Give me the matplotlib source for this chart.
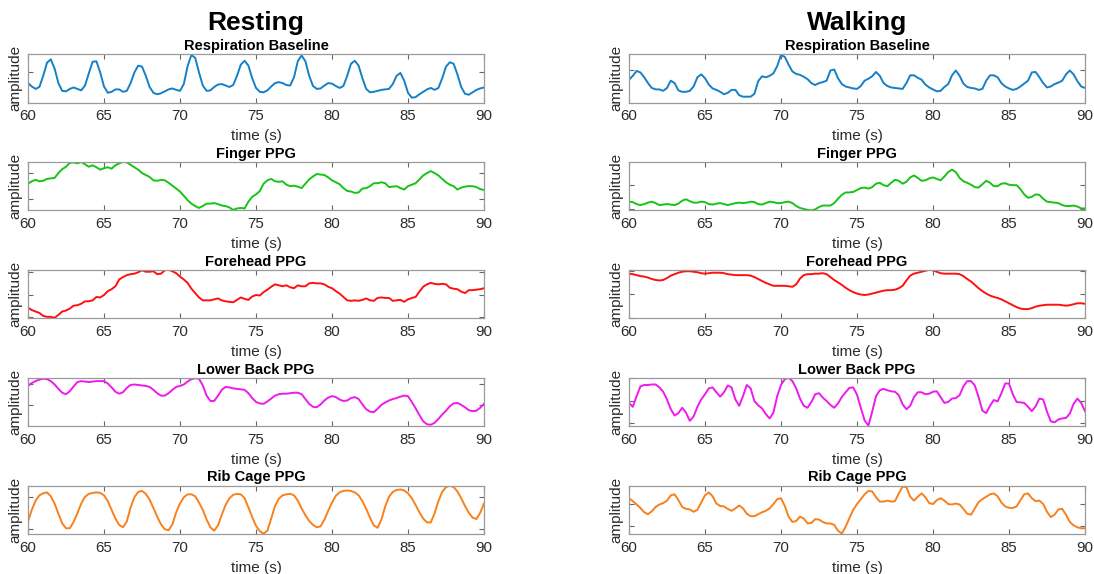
import numpy as np
import matplotlib.pyplot as plt

plt.rcParams['font.family'] = ['Liberation Sans', 'DejaVu Sans']

# 0.25 s sampling, 60-90 s window, amplitudes normalised to the panel range
t = np.arange(60, 90.001, 0.25)

resp_rest = [
    0.40, 0.33, 0.28, 0.32, 0.55, 0.82, 0.89, 0.70, 0.40, 0.24, 0.23, 0.28,
    0.31, 0.28, 0.25, 0.35, 0.60, 0.84, 0.85, 0.62, 0.33, 0.20, 0.22, 0.27,
    0.27, 0.22, 0.24, 0.40, 0.62, 0.76, 0.74, 0.55, 0.32, 0.20, 0.17, 0.19,
    0.23, 0.27, 0.29, 0.26, 0.24, 0.38, 0.75, 0.98, 0.92, 0.62, 0.35, 0.24,
    0.25, 0.32, 0.37, 0.38, 0.35, 0.32, 0.36, 0.55, 0.78, 0.86, 0.76, 0.50,
    0.30, 0.22, 0.21, 0.25, 0.33, 0.40, 0.42, 0.40, 0.36, 0.35, 0.52, 0.85,
    0.97, 0.85, 0.55, 0.34, 0.28, 0.29, 0.35, 0.40, 0.39, 0.34, 0.30, 0.34,
    0.55, 0.80, 0.86, 0.76, 0.50, 0.28, 0.21, 0.22, 0.24, 0.26, 0.27, 0.28,
    0.38, 0.55, 0.61, 0.45, 0.20, 0.10, 0.11, 0.17, 0.22, 0.27, 0.30, 0.26,
    0.30, 0.50, 0.74, 0.83, 0.80, 0.58, 0.32, 0.18, 0.16, 0.21, 0.26, 0.29,
    0.31]

finger_rest = [
    0.55, 0.60, 0.63, 0.60, 0.61, 0.65, 0.66, 0.67, 0.77, 0.85, 0.90, 0.98,
    0.99, 0.97, 1.00, 0.95, 0.90, 0.93, 0.89, 0.84, 0.87, 0.89, 0.86, 0.93,
    0.97, 1.00, 0.99, 0.94, 0.89, 0.84, 0.77, 0.73, 0.69, 0.62, 0.61, 0.63,
    0.62, 0.57, 0.51, 0.45, 0.39, 0.30, 0.21, 0.14, 0.09, 0.05, 0.09, 0.14,
    0.14, 0.15, 0.13, 0.10, 0.09, 0.06, 0.01, 0.04, 0.05, 0.04, 0.18, 0.28,
    0.33, 0.40, 0.55, 0.62, 0.65, 0.60, 0.59, 0.60, 0.53, 0.50, 0.51, 0.49,
    0.46, 0.55, 0.64, 0.70, 0.75, 0.74, 0.73, 0.68, 0.62, 0.58, 0.54, 0.46,
    0.40, 0.39, 0.36, 0.37, 0.45, 0.46, 0.50, 0.56, 0.56, 0.58, 0.56, 0.48,
    0.49, 0.50, 0.46, 0.43, 0.50, 0.53, 0.56, 0.64, 0.72, 0.77, 0.81, 0.77,
    0.72, 0.65, 0.58, 0.53, 0.50, 0.43, 0.47, 0.49, 0.50, 0.50, 0.48, 0.44,
    0.42]

forehead_rest = [
    0.22, 0.17, 0.14, 0.11, 0.05, 0.03, 0.03, 0.01, 0.07, 0.14, 0.16, 0.20,
    0.26, 0.27, 0.30, 0.35, 0.35, 0.37, 0.44, 0.43, 0.48, 0.56, 0.60, 0.66,
    0.80, 0.85, 0.89, 0.91, 0.92, 0.95, 0.99, 0.96, 0.96, 0.97, 0.91, 0.92,
    0.99, 1.00, 0.97, 0.93, 0.86, 0.80, 0.73, 0.61, 0.52, 0.43, 0.37, 0.37,
    0.37, 0.39, 0.41, 0.37, 0.35, 0.34, 0.33, 0.38, 0.43, 0.40, 0.38, 0.45,
    0.48, 0.47, 0.54, 0.59, 0.65, 0.70, 0.68, 0.66, 0.68, 0.64, 0.62, 0.68,
    0.66, 0.66, 0.72, 0.73, 0.72, 0.72, 0.70, 0.65, 0.62, 0.56, 0.51, 0.44,
    0.37, 0.36, 0.37, 0.36, 0.38, 0.41, 0.37, 0.36, 0.42, 0.43, 0.42, 0.42,
    0.36, 0.37, 0.38, 0.34, 0.39, 0.42, 0.44, 0.55, 0.65, 0.70, 0.73, 0.71,
    0.70, 0.71, 0.70, 0.63, 0.61, 0.60, 0.55, 0.52, 0.58, 0.58, 0.59, 0.60,
    0.62]

back_rest = [
    0.83, 0.89, 0.93, 0.96, 0.98, 0.97, 0.93, 0.86, 0.77, 0.69, 0.66, 0.72,
    0.82, 0.91, 0.93, 0.92, 0.91, 0.92, 0.93, 0.93, 0.93, 0.88, 0.80, 0.71,
    0.67, 0.70, 0.79, 0.85, 0.86, 0.85, 0.84, 0.83, 0.81, 0.75, 0.68, 0.63,
    0.63, 0.68, 0.75, 0.81, 0.83, 0.86, 0.92, 0.97, 0.99, 0.98, 0.84, 0.63,
    0.52, 0.52, 0.63, 0.75, 0.81, 0.80, 0.78, 0.77, 0.76, 0.75, 0.68, 0.58,
    0.50, 0.47, 0.46, 0.51, 0.57, 0.63, 0.66, 0.67, 0.67, 0.68, 0.69, 0.69,
    0.66, 0.56, 0.46, 0.40, 0.39, 0.45, 0.53, 0.59, 0.62, 0.60, 0.55, 0.52,
    0.53, 0.58, 0.60, 0.56, 0.45, 0.35, 0.30, 0.29, 0.36, 0.44, 0.49, 0.53,
    0.56, 0.58, 0.61, 0.63, 0.62, 0.50, 0.37, 0.23, 0.10, 0.04, 0.03, 0.07,
    0.15, 0.24, 0.32, 0.41, 0.47, 0.48, 0.44, 0.39, 0.33, 0.31, 0.32, 0.38,
    0.46]

rib_rest = [
    0.26, 0.50, 0.69, 0.80, 0.84, 0.86, 0.78, 0.63, 0.42, 0.22, 0.12, 0.12,
    0.25, 0.43, 0.63, 0.77, 0.83, 0.85, 0.86, 0.85, 0.80, 0.68, 0.50, 0.32,
    0.19, 0.14, 0.26, 0.55, 0.76, 0.87, 0.89, 0.83, 0.71, 0.54, 0.36, 0.20,
    0.10, 0.08, 0.20, 0.45, 0.63, 0.76, 0.82, 0.82, 0.78, 0.65, 0.50, 0.30,
    0.14, 0.07, 0.18, 0.40, 0.60, 0.74, 0.81, 0.83, 0.82, 0.74, 0.55, 0.35,
    0.17, 0.06, 0.01, 0.07, 0.32, 0.58, 0.73, 0.80, 0.82, 0.83, 0.80, 0.69,
    0.53, 0.39, 0.27, 0.19, 0.14, 0.16, 0.30, 0.48, 0.65, 0.79, 0.86, 0.89,
    0.90, 0.89, 0.86, 0.80, 0.68, 0.52, 0.34, 0.18, 0.13, 0.30, 0.57, 0.77,
    0.87, 0.91, 0.92, 0.90, 0.84, 0.74, 0.60, 0.45, 0.32, 0.24, 0.24, 0.43,
    0.68, 0.87, 0.97, 1.00, 0.97, 0.88, 0.74, 0.58, 0.44, 0.34, 0.31, 0.44,
    0.63]

resp_walk = [
    0.47, 0.55, 0.65, 0.62, 0.52, 0.40, 0.30, 0.27, 0.27, 0.24, 0.30, 0.45,
    0.40, 0.25, 0.22, 0.22, 0.24, 0.33, 0.52, 0.58, 0.50, 0.37, 0.29, 0.26,
    0.22, 0.17, 0.20, 0.26, 0.26, 0.15, 0.12, 0.12, 0.12, 0.18, 0.44, 0.54,
    0.52, 0.55, 0.60, 0.75, 0.98, 0.94, 0.78, 0.64, 0.59, 0.57, 0.53, 0.48,
    0.40, 0.36, 0.40, 0.42, 0.45, 0.66, 0.68, 0.50, 0.38, 0.33, 0.31, 0.29,
    0.28, 0.34, 0.45, 0.49, 0.54, 0.63, 0.55, 0.40, 0.34, 0.31, 0.30, 0.29,
    0.28, 0.40, 0.56, 0.56, 0.51, 0.47, 0.37, 0.31, 0.27, 0.23, 0.24, 0.32,
    0.38, 0.56, 0.66, 0.55, 0.39, 0.32, 0.30, 0.29, 0.26, 0.28, 0.45, 0.56,
    0.56, 0.52, 0.40, 0.33, 0.29, 0.26, 0.28, 0.33, 0.39, 0.45, 0.62, 0.63,
    0.52, 0.40, 0.31, 0.33, 0.38, 0.41, 0.45, 0.58, 0.66, 0.58, 0.44, 0.33,
    0.30]

finger_walk = [
    0.18, 0.17, 0.13, 0.11, 0.13, 0.16, 0.18, 0.15, 0.11, 0.12, 0.13, 0.12,
    0.11, 0.14, 0.20, 0.23, 0.19, 0.16, 0.16, 0.18, 0.17, 0.13, 0.12, 0.14,
    0.15, 0.13, 0.11, 0.13, 0.15, 0.16, 0.15, 0.16, 0.18, 0.17, 0.13, 0.12,
    0.15, 0.18, 0.17, 0.15, 0.15, 0.17, 0.18, 0.15, 0.09, 0.05, 0.03, 0.01,
    0.00, 0.02, 0.07, 0.10, 0.10, 0.10, 0.15, 0.24, 0.32, 0.37, 0.37, 0.38,
    0.42, 0.46, 0.47, 0.45, 0.48, 0.55, 0.57, 0.52, 0.50, 0.57, 0.63, 0.61,
    0.55, 0.59, 0.68, 0.72, 0.67, 0.61, 0.62, 0.66, 0.68, 0.65, 0.62, 0.70,
    0.79, 0.84, 0.79, 0.67, 0.60, 0.57, 0.53, 0.48, 0.47, 0.54, 0.61, 0.57,
    0.50, 0.50, 0.55, 0.56, 0.53, 0.52, 0.52, 0.44, 0.33, 0.26, 0.28, 0.33,
    0.32, 0.24, 0.18, 0.17, 0.16, 0.15, 0.11, 0.09, 0.09, 0.10, 0.08, 0.04,
    0.04]

forehead_walk = [
    0.92, 0.91, 0.89, 0.87, 0.86, 0.84, 0.81, 0.79, 0.78, 0.79, 0.83, 0.88,
    0.91, 0.94, 0.96, 0.97, 0.97, 0.96, 0.95, 0.93, 0.92, 0.93, 0.94, 0.94,
    0.94, 0.93, 0.91, 0.90, 0.89, 0.89, 0.89, 0.89, 0.88, 0.85, 0.81, 0.77,
    0.73, 0.70, 0.67, 0.67, 0.67, 0.67, 0.66, 0.65, 0.70, 0.82, 0.89, 0.91,
    0.91, 0.92, 0.92, 0.93, 0.91, 0.85, 0.79, 0.74, 0.69, 0.63, 0.58, 0.54,
    0.51, 0.49, 0.48, 0.49, 0.51, 0.53, 0.55, 0.57, 0.58, 0.58, 0.59, 0.62,
    0.67, 0.78, 0.88, 0.92, 0.94, 0.96, 0.98, 1.00, 0.99, 0.96, 0.93, 0.92,
    0.92, 0.92, 0.92, 0.91, 0.87, 0.81, 0.76, 0.69, 0.62, 0.56, 0.51, 0.47,
    0.44, 0.42, 0.39, 0.35, 0.31, 0.27, 0.23, 0.20, 0.19, 0.19, 0.21, 0.24,
    0.26, 0.27, 0.28, 0.28, 0.28, 0.28, 0.27, 0.26, 0.27, 0.29, 0.31, 0.31,
    0.30]

back_walk = [
    0.48, 0.40, 0.62, 0.82, 0.85, 0.85, 0.86, 0.86, 0.80, 0.71, 0.55, 0.35,
    0.22, 0.27, 0.38, 0.28, 0.11, 0.20, 0.40, 0.55, 0.66, 0.78, 0.80, 0.70,
    0.61, 0.70, 0.84, 0.80, 0.55, 0.42, 0.62, 0.85, 0.78, 0.52, 0.43, 0.37,
    0.25, 0.16, 0.28, 0.62, 0.85, 0.97, 1.00, 0.93, 0.78, 0.57, 0.42, 0.38,
    0.50, 0.66, 0.68, 0.59, 0.52, 0.44, 0.38, 0.47, 0.60, 0.70, 0.79, 0.80,
    0.65, 0.38, 0.12, 0.01, 0.30, 0.62, 0.74, 0.77, 0.74, 0.72, 0.71, 0.64,
    0.45, 0.35, 0.42, 0.60, 0.70, 0.70, 0.66, 0.67, 0.71, 0.72, 0.60, 0.48,
    0.50, 0.57, 0.58, 0.64, 0.82, 0.93, 0.93, 0.84, 0.60, 0.32, 0.27, 0.42,
    0.54, 0.51, 0.68, 0.88, 0.88, 0.66, 0.50, 0.49, 0.48, 0.40, 0.31, 0.41,
    0.57, 0.55, 0.30, 0.10, 0.08, 0.14, 0.16, 0.17, 0.26, 0.46, 0.57, 0.48,
    0.31]

rib_walk = [
    0.74, 0.68, 0.61, 0.54, 0.45, 0.41, 0.47, 0.56, 0.61, 0.64, 0.69, 0.80,
    0.82, 0.70, 0.56, 0.52, 0.51, 0.46, 0.50, 0.65, 0.80, 0.86, 0.78, 0.63,
    0.58, 0.57, 0.52, 0.48, 0.53, 0.59, 0.53, 0.42, 0.37, 0.37, 0.41, 0.45,
    0.48, 0.53, 0.62, 0.72, 0.74, 0.58, 0.36, 0.25, 0.27, 0.36, 0.32, 0.22,
    0.23, 0.31, 0.30, 0.25, 0.22, 0.22, 0.19, 0.07, 0.01, 0.15, 0.33, 0.50,
    0.62, 0.72, 0.82, 0.89, 0.88, 0.76, 0.67, 0.67, 0.69, 0.67, 0.68, 0.84,
    0.98, 0.97, 0.77, 0.69, 0.77, 0.84, 0.76, 0.64, 0.62, 0.70, 0.74, 0.69,
    0.62, 0.61, 0.63, 0.61, 0.52, 0.42, 0.40, 0.53, 0.66, 0.72, 0.77, 0.82,
    0.84, 0.78, 0.65, 0.57, 0.54, 0.54, 0.57, 0.70, 0.82, 0.84, 0.74, 0.68,
    0.69, 0.62, 0.46, 0.35, 0.40, 0.51, 0.52, 0.40, 0.25, 0.18, 0.14, 0.12,
    0.12]

titles = ['Respiration Baseline', 'Finger PPG', 'Forehead PPG',
          'Lower Back PPG', 'Rib Cage PPG']
resting = [resp_rest, finger_rest, forehead_rest, back_rest, rib_rest]
walking = [resp_walk, finger_walk, forehead_walk, back_walk, rib_walk]
colors = ['#1580C8', '#16C416', '#FF1010', '#EE1AEE', '#F7811C']

# y tick marks (no labels) for each panel: [resting, walking]
yticks = [
    ([0.62], [0.66]),
    ([0.24, 0.78], [0.03, 0.52]),
    ([0.03, 0.49, 0.95], [0.01, 0.50, 0.98]),
    ([0.43, 0.86], [0.06, 0.52, 0.99]),
    ([0.11, 0.76], [0.17, 0.62]),
]

W, H = 1094, 574
fig = plt.figure(figsize=(W / 100, H / 100), dpi=100)

col_left = [28, 629]
ax_w, ax_h = 456, 48.5
row_top0, row_step = 54, 107.9

for r in range(5):
    top = row_top0 + r * row_step
    for c, series in enumerate([resting, walking]):
        ax = fig.add_axes([col_left[c] / W, 1 - (top + ax_h) / H, ax_w / W, ax_h / H])
        ax.plot(t, series[r], color=colors[r], lw=1.4)
        ax.set_xlim(60, 90)
        ax.set_ylim(0, 1)
        ax.set_xticks(range(60, 91, 5))
        ax.set_yticks(yticks[r][c])
        ax.set_yticklabels([])
        ax.tick_params(direction='in', top=True, right=True, length=3.5,
                       width=0.8, color='#666666', labelsize=10.8,
                       labelcolor='#2b2b2b', pad=5)
        for s in ax.spines.values():
            s.set_color('#9a9a9a')
            s.set_linewidth(0.9)
        ax.set_title(titles[r], fontsize=10.5, fontweight='bold', pad=3)
        ax.set_xlabel('time (s)', fontsize=11, color='#2b2b2b', labelpad=4)
        ax.set_ylabel('amplitude', fontsize=11, color='#2b2b2b', labelpad=-1)

fig.text(256 / W, 1 - 23 / H, 'Resting', ha='center', va='center',
         fontsize=19, fontweight='bold')
fig.text(857 / W, 1 - 23 / H, 'Walking', ha='center', va='center',
         fontsize=19, fontweight='bold')

fig.savefig('out.png', dpi=100)
